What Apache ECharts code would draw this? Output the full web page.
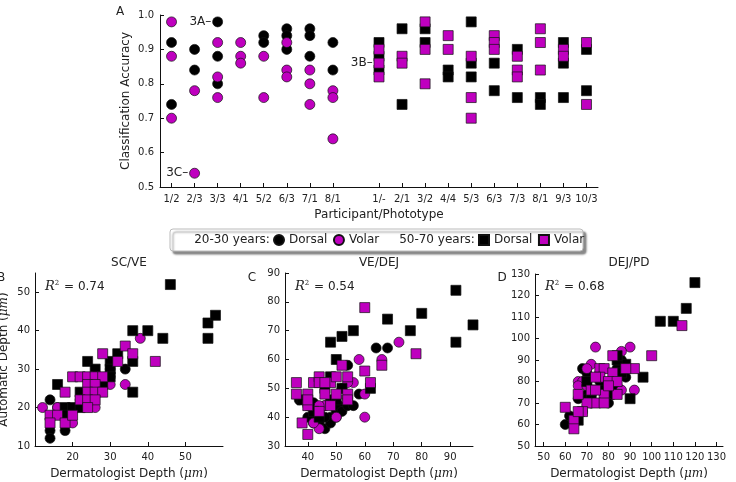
<!DOCTYPE html>
<html><head><meta charset="utf-8">
<script src="https://cdn.jsdelivr.net/npm/echarts@6/dist/echarts.min.js"></script>
<style>html,body{margin:0;padding:0;background:#fff}#c{width:736px;height:482px}</style>
</head><body><div id="c"></div>
<script>
// ---------- Panel A data ----------
const youngLabels = ['1/2','2/3','3/3','4/1','5/2','6/3','7/1','8/1'];
const oldLabels = ['1/-','2/1','3/2','4/4','5/3','6/3','7/3','8/1','9/3','10/3'];
const accYoungDorsal = [[0.92,0.74],[0.90,0.84],[0.98,0.88,0.80],[],[0.94,0.92],[0.96,0.94,0.90],[0.96,0.94,0.88],[0.92,0.84]];
const accYoungVolar = [[0.98,0.88,0.70],[0.78,0.54],[0.92,0.82,0.76],[0.92,0.88,0.86],[0.88,0.76],[0.92,0.84,0.82],[0.84,0.80,0.74],[0.78,0.76,0.64]];
const accOldDorsal = [[0.92,0.88,0.84],[0.96,0.74],[0.96,0.92],[0.84,0.82],[0.98,0.86,0.82],[0.86,0.78],[0.90,0.76],[0.76,0.74],[0.92,0.86,0.76],[0.90,0.78]];
const accOldVolar = [[0.90,0.86,0.82],[0.88,0.86],[0.98,0.90,0.80],[0.94,0.90],[0.88,0.76,0.70],[0.94,0.92,0.90],[0.88,0.84,0.82],[0.96,0.92,0.84],[0.90,0.88],[0.92,0.74]];
const annotations = [
  {text:'3A', group:'youngDorsal', col:2, acc:0.98},
  {text:'3C', group:'youngVolar', col:1, acc:0.54},
  {text:'3B', group:'oldVolar', col:0, acc:0.86}
];
const accTicks = [0.5,0.6,0.7,0.8,0.9,1.0];

// ---------- Panel B (SC/VE) ----------
const scveYoungDorsal = [[14,22],[14,14],[14,12],[18,14],[18,18],[30,28],[34,30],[30,30],[16,20],[22,22]];
const scveYoungVolar = [[38,38],[34,26],[30,26],[12,20],[16,20],[26,20],[20,16]];
const scveOldDorsal = [[46,52],[56,38],[56,42],[58,44],[36,40],[40,40],[44,38],[36,32],[36,24],[32,34],[24,32],[26,30],[16,26],[30,32],[30,30],[30,28],[22,24],[18,20],[20,20],[22,20],[28,26],[18,18]];
const scveOldVolar = [[28,34],[34,36],[36,34],[32,32],[42,32],[20,28],[22,28],[24,28],[26,28],[28,28],[24,26],[26,26],[18,24],[24,24],[26,24],[28,24],[22,22],[24,22],[26,22],[24,20],[14,18],[16,18],[14,16],[18,16],[20,18]];
// ---------- Panel C (VE/DEJ) ----------
const vedejYoungDorsal = [[64,64],[68,64],[54,58],[58,48],[37,46],[40,44],[42,45],[44,42],[46,44],[48,40],[50,42],[51,44],[52,42],[54,44],[56,44],[42,40],[44,38],[46,36],[42,38],[48,38],[50,40],[52,50],[54,46],[46,40],[40,40],[48,46]];
const vedejYoungVolar = [[72,66],[58,60],[66,60],[60,48],[60,40],[56,52],[44,36],[50,40],[46,44],[42,38],[54,52],[44,44]];
const vedejOldDorsal = [[92,84],[98,72],[92,66],[80,76],[76,70],[68,74],[56,70],[52,68],[48,66],[50,60],[62,50],[48,54],[52,50],[38,46],[42,42],[44,40],[50,46],[46,50]];
const vedejOldVolar = [[60,78],[78,62],[66,58],[60,56],[62,52],[52,58],[36,52],[36,48],[40,48],[42,52],[44,54],[44,52],[46,48],[48,52],[50,54],[50,48],[54,54],[54,48],[38,38],[40,34],[40,44],[44,42],[48,44],[46,52],[54,46],[40,46]];
// ---------- Panel D (DEJ/PD) ----------
const dejpdYoungDorsal = [[60,60],[62,64],[64,62],[68,86],[70,84],[70,74],[72,70],[70,72],[80,70],[82,74],[84,78],[88,82],[86,90],[66,72],[68,66],[76,80],[84,86]];
const dejpdYoungVolar = [[74,96],[90,96],[86,94],[72,88],[92,76],[66,80],[70,86],[68,80],[66,78],[72,74],[76,84],[86,76],[82,80],[70,78]];
const dejpdOldDorsal = [[120,126],[116,114],[104,108],[110,108],[96,82],[90,72],[88,88],[84,90],[70,80],[66,62],[72,72],[78,76],[84,92],[86,84]];
const dejpdOldVolar = [[114,106],[100,92],[82,92],[92,86],[88,86],[76,86],[78,86],[82,84],[76,82],[80,80],[84,80],[74,82],[72,76],[84,74],[78,74],[74,70],[78,70],[70,70],[66,74],[60,68],[68,66],[64,62],[64,58],[66,66],[80,78],[74,76]];

const panelTitles = ['SC/VE','VE/DEJ','DEJ/PD'];
const rSquared = ['0.74','0.54','0.68'];
const bxTicks = [20,30,40,50], byTicks = [10,20,30,40,50];
const cxTicks = [40,50,60,70,80,90], cyTicks = [30,40,50,60,70,80,90];
const dxTicks = [50,60,70,80,90,100,110,120,130], dyTicks = [50,60,70,80,90,100,110,120,130];

// ---------- build ----------
const FONT = 'DejaVu Sans';
const PURPLE = '#bf00bf';
const allLabels = youngLabels.concat([''], oldLabels);
const catTicks = [];
allLabels.forEach((l,i)=>{ if(l) catTicks.push(i); });

function topData(arr, offset, group){
  const out = [];
  arr.forEach((vals,i)=>vals.forEach(v=>{
    const ann = annotations.find(a=>a.group===group && a.col===i && a.acc===v);
    const item = {value:[i+offset, v]};
    if (ann) item.label = {show:true, position:'left', distance:1, formatter: ann.text+'\u2013', color:'#222', fontFamily:FONT, fontSize:12};
    out.push(item);
  }));
  return out;
}

const seriesDefs = [
  {name:'20-30 Dorsal', symbol:'circle', color:'#000'},
  {name:'20-30 Volar', symbol:'circle', color:PURPLE},
  {name:'50-70 Dorsal', symbol:'rect', color:'#000'},
  {name:'50-70 Volar', symbol:'rect', color:PURPLE}
];
const panelData = [
  [topData(accYoungDorsal,0,'youngDorsal'), topData(accYoungVolar,0,'youngVolar'), topData(accOldDorsal,9,'oldDorsal'), topData(accOldVolar,9,'oldVolar')],
  [scveYoungDorsal, scveYoungVolar, scveOldDorsal, scveOldVolar],
  [vedejYoungDorsal, vedejYoungVolar, vedejOldDorsal, vedejOldVolar],
  [dejpdYoungDorsal, dejpdYoungVolar, dejpdOldDorsal, dejpdOldVolar]
];
const series = [];
panelData.forEach((sets, g)=>{
  sets.forEach((d, k)=>{
    const def = seriesDefs[k];
    series.push({
      type:'scatter', name:def.name, xAxisIndex:g, yAxisIndex:g,
      symbol:def.symbol, symbolSize:10, data:d,
      itemStyle:{color:def.color, borderColor:'#111', borderWidth:0.7, opacity:1},
      emphasis:{disabled:true}, z: 2+k
    });
  });
});

const axisCommon = {
  axisLine:{show:true, onZero:false, lineStyle:{color:'#111', width:1}},
  splitLine:{show:false},
  nameTextStyle:{fontFamily:FONT, fontSize:12, color:'#222', rich:{i:{fontFamily:'DejaVu Serif', fontStyle:'italic', fontSize:12, color:'#222'}}}
};
function lab(vals, margin, fmt){
  const o = {customValues:vals, fontFamily:FONT, fontSize:10, color:'#222', margin:margin, showMinLabel:true, showMaxLabel:true};
  if (fmt) o.formatter = fmt;
  return o;
}
function tick(vals){ return {show:true, inside:true, length:4, customValues:vals, lineStyle:{color:'#111'}}; }

const grids = [
  {left:160, right:138, top:15, bottom:295, outerBoundsMode:'none'},
  {left:35, right:513, top:273, bottom:36, outerBoundsMode:'none'},
  {left:285, right:263, top:273, bottom:36, outerBoundsMode:'none'},
  {left:535, right:13, top:274, bottom:36, outerBoundsMode:'none'}
];
const depthName = 'Dermatologist Depth ({i|\u03bcm})';
const xAxes = [
  Object.assign({}, axisCommon, {gridIndex:0, type:'value', min:-0.5, max:18.5, axisTick:tick(catTicks), axisLabel:lab(catTicks,7,v=>allLabels[Math.round(v)]), name:'Participant/Phototype', nameLocation:'middle', nameGap:22}),
  Object.assign({}, axisCommon, {gridIndex:1, type:'value', min:10, max:60, axisTick:tick(bxTicks), axisLabel:lab(bxTicks,6), name:depthName, nameLocation:'middle', nameGap:22}),
  Object.assign({}, axisCommon, {gridIndex:2, type:'value', min:32, max:98, axisTick:tick(cxTicks), axisLabel:lab(cxTicks,6), name:depthName, nameLocation:'middle', nameGap:22}),
  Object.assign({}, axisCommon, {gridIndex:3, type:'value', min:46, max:133, axisTick:tick(dxTicks), axisLabel:lab(dxTicks,6), name:depthName, nameLocation:'middle', nameGap:22})
];
const yAxes = [
  Object.assign({}, axisCommon, {gridIndex:0, type:'value', min:0.5, max:1.0, axisTick:tick(accTicks), axisLabel:lab(accTicks,6,v=>v.toFixed(1)), name:'Classification Accuracy', nameLocation:'middle', nameGap:28, nameMoveOverlap:false}),
  Object.assign({}, axisCommon, {gridIndex:1, type:'value', min:10, max:55, axisTick:tick(byTicks), axisLabel:lab(byTicks,5), name:'Automatic Depth ({i|\u03bcm})', nameLocation:'middle', nameGap:25, nameMoveOverlap:false}),
  Object.assign({}, axisCommon, {gridIndex:2, type:'value', min:30, max:90, axisTick:tick(cyTicks), axisLabel:lab(cyTicks,5)}),
  Object.assign({}, axisCommon, {gridIndex:3, type:'value', min:50, max:130, axisTick:tick(dyTicks), axisLabel:lab(dyTicks,5)})
];

function txt(x, y, text, extra){
  return {type:'text', x:x, y:y, z:10, style:Object.assign({text:text, fill:'#222', font:'12px "DejaVu Sans"', fontFamily:FONT, fontSize:12,
    align:'center', textAlign:'center', verticalAlign:'middle', textVerticalAlign:'middle'}, extra||{})};
}
const rich = {r:{fontFamily:'DejaVu Serif', fontStyle:'italic', fontSize:13, fill:'#222', color:'#222'}, s:{fontFamily:'DejaVu Serif', fontSize:7, fill:'#222', color:'#222', padding:[0,1,7,0]}, t:{fontFamily:FONT, fontSize:12, fill:'#222', color:'#222'}};
const gCenters = [129, 379, 629];
const rX = [45, 295, 545];
const graphics = [
  {type:'rect', shape:{x:170, y:229, width:413, height:22, r:3}, z:0, style:{fill:'#fff', stroke:'#bbb', lineWidth:1, shadowColor:'rgba(0,0,0,0.45)', shadowOffsetX:3, shadowOffsetY:3, shadowBlur:2}},
  txt(232, 240, '20-30 years:'),
  txt(437, 240, '50-70 years:'),
  txt(120, 12, 'A'),
  txt(1, 278, 'B'),
  txt(252, 278, 'C'),
  txt(502, 278, 'D')
];
panelTitles.forEach((t,i)=>{
  graphics.push(txt(gCenters[i], 263, t));
  graphics.push({type:'text', x:rX[i], y:287, z:10, style:{text:'{r|R}{s|2}{t| = '+rSquared[i]+'}', rich:rich, align:'left', textAlign:'left', verticalAlign:'middle', textVerticalAlign:'middle'}});
});

const legendCommon = {orient:'horizontal', top:229, padding:5, itemWidth:10, itemHeight:10, itemGap:5.5, z:20,
  textStyle:{fontFamily:FONT, fontSize:12, color:'#222'}, formatter:n=>n.split(' ')[1], selectedMode:false};
const option = {
  animation:false,
  backgroundColor:'#fff',
  grid:grids, xAxis:xAxes, yAxis:yAxes, series:series,
  legend:[
    Object.assign({}, legendCommon, {left:268, data:[{name:'20-30 Dorsal', icon:'circle'},{name:'20-30 Volar', icon:'circle'}]}),
    Object.assign({}, legendCommon, {left:473, data:[{name:'50-70 Dorsal', icon:'rect'},{name:'50-70 Volar', icon:'rect'}]})
  ],
  graphic:graphics
};
const chart = echarts.init(document.getElementById('c'), null, {renderer:'canvas'});
chart.setOption(option);
</script></body></html>
